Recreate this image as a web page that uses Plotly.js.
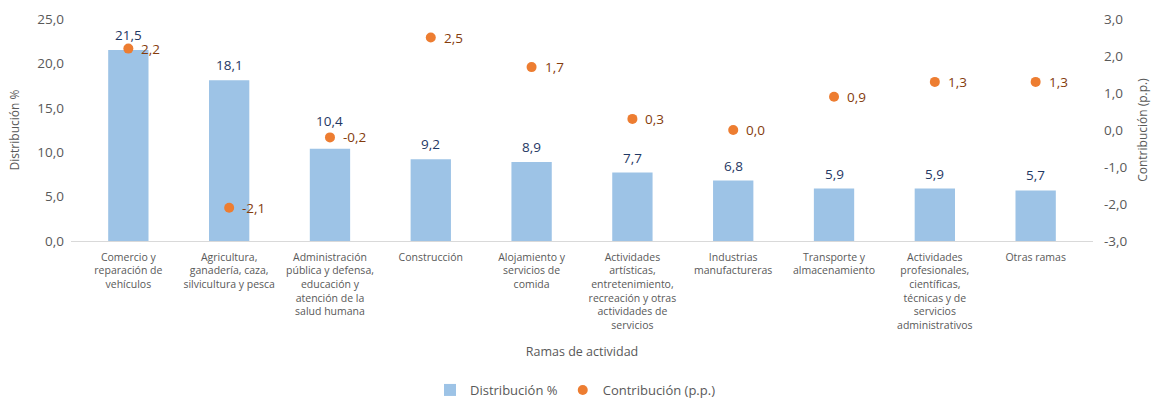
<!DOCTYPE html>
<html>
<head>
<meta charset="utf-8">
<script src="https://cdn.plot.ly/plotly-3.0.1.min.js"></script>
<style>html,body{margin:0;padding:0;background:#fff;}#chart{width:1151px;height:400px;}</style>
</head>
<body>
<div id="chart"></div>
<script>
const categories = [
  "Comercio y<br>reparación de<br>vehículos",
  "Agricultura,<br>ganadería, caza,<br>silvicultura y pesca",
  "Administración<br>pública y defensa,<br>educación y<br>atención de la<br>salud humana",
  "Construcción",
  "Alojamiento y<br>servicios de<br>comida",
  "Actividades<br>artísticas,<br>entretenimiento,<br>recreación y otras<br>actividades de<br>servicios",
  "Industrias<br>manufactureras",
  "Transporte y<br>almacenamiento",
  "Actividades<br>profesionales,<br>científicas,<br>técnicas y de<br>servicios<br>administrativos",
  "Otras ramas"
];
const distribucion = [21.5, 18.1, 10.4, 9.2, 8.9, 7.7, 6.8, 5.9, 5.9, 5.7];
const contribucion = [2.2, -2.1, -0.2, 2.5, 1.7, 0.3, 0.0, 0.9, 1.3, 1.3];
const leftTicks = [0, 5, 10, 15, 20, 25];
const rightTicks = [-3, -2, -1, 0, 1, 2, 3];

const fmt = v => v.toFixed(1).replace('.', ',');
const FONT = "Open Sans, Liberation Sans, sans-serif";

const traces = [
  {
    type: 'bar',
    name: 'Distribución %',
    x: categories,
    y: distribucion,
    marker: {color: '#9DC3E6'},
    width: 0.4,
    hoverinfo: 'none'
  },
  {
    type: 'scatter',
    mode: 'markers',
    name: 'Contribución (p.p.)',
    x: categories,
    y: contribucion,
    yaxis: 'y2',
    marker: {color: '#ED7D31', size: 10},
    cliponaxis: false,
    hoverinfo: 'none'
  }
];

// Data labels, anchored to the data through the axes
const annotations = [];
distribucion.forEach((v, i) => {
  // the third label is lifted above its nearby marker, as in the reference
  const lift = (i === 2) ? 17 : 4;
  annotations.push({
    x: categories[i], y: v, xref: 'x', yref: 'y',
    text: fmt(v), showarrow: false, yanchor: 'bottom', xanchor: 'center',
    yshift: lift, font: {color: '#1F3864', size: 13.5, family: FONT}
  });
});
contribucion.forEach((v, i) => {
  annotations.push({
    x: categories[i], y: v, xref: 'x', yref: 'y2',
    text: fmt(v), showarrow: false, yanchor: 'middle', xanchor: 'left',
    xshift: 11, font: {color: '#843C0C', size: 13.5, family: FONT}
  });
});

const layout = {
  width: 1151,
  height: 400,
  margin: {l: 71, r: 58, t: 19, b: 159},
  paper_bgcolor: '#fff',
  plot_bgcolor: '#fff',
  font: {family: FONT, color: '#595959'},
  showlegend: true,
  legend: {orientation: 'h', x: 0.5, xanchor: 'center', xref: 'container',
           y: 0.025, yanchor: 'middle', yref: 'container',
           font: {size: 13, color: '#595959'}, traceorder: 'normal', itemwidth: 30},
  annotations: annotations,
  xaxis: {
    automargin: false,
    showline: true, linecolor: '#D9D9D9', linewidth: 1,
    ticks: '', showgrid: false, zeroline: false,
    ticklabelstandoff: 6,
    tickfont: {size: 10.5, color: '#595959'},
    title: {text: 'Ramas de actividad', font: {size: 12.5, color: '#595959'}, standoff: 16},
    tickangle: 0
  },
  yaxis: {
    automargin: false,
    range: [0, 25], tickvals: leftTicks, ticktext: leftTicks.map(fmt),
    showgrid: false, zeroline: false, showline: false, ticks: '',
    ticklabelstandoff: 6,
    tickfont: {size: 13.5, color: '#595959'},
    title: {text: 'Distribución %', font: {size: 12, color: '#595959'}, standoff: 15}
  },
  yaxis2: {
    automargin: false,
    overlaying: 'y', side: 'right',
    range: [-3, 3], tickvals: rightTicks, ticktext: rightTicks.map(fmt),
    showgrid: false, zeroline: false, showline: false, ticks: '',
    ticklabelstandoff: 10,
    tickfont: {size: 13.5, color: '#595959'},
    title: {text: 'Contribución (p.p.)', font: {size: 12, color: '#595959'}, standoff: 12}
  }
};

Plotly.newPlot('chart', traces, layout, {displayModeBar: false, staticPlot: true});
</script>
</body>
</html>
